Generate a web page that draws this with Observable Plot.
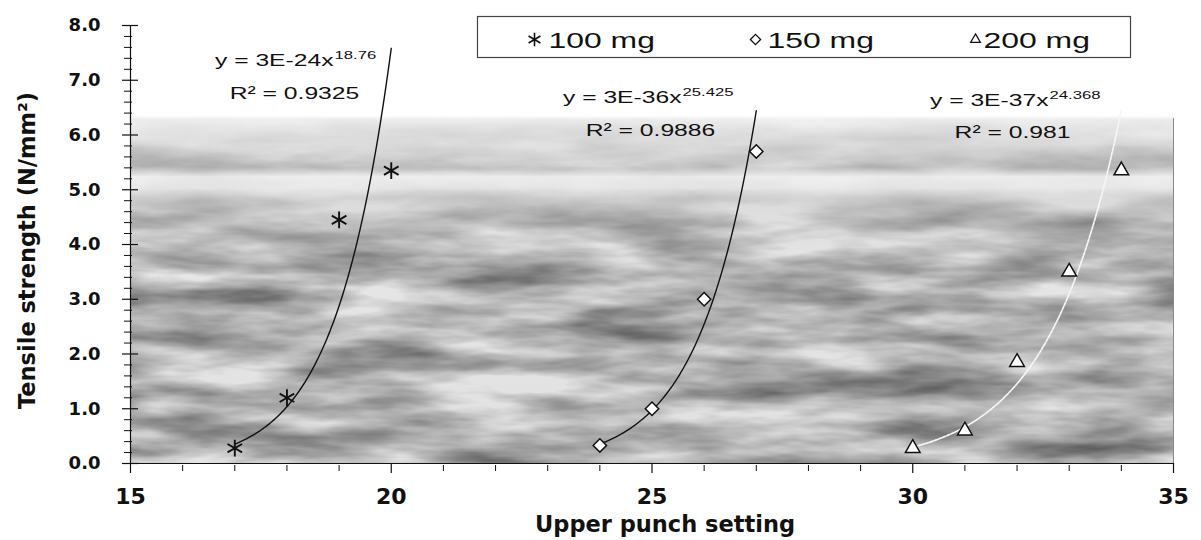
<!DOCTYPE html>
<html><head><meta charset="utf-8">
<script src="https://cdn.jsdelivr.net/npm/d3@7"></script>
<script src="https://cdn.jsdelivr.net/npm/@observablehq/plot@0.6"></script>
<style>body{margin:0;background:#fff} #chart svg{display:block}</style>
</head><body><div id="chart"></div>
<script>
// ---------- data ----------
const series = ["100 mg", "150 mg", "200 mg"];
const x100 = [17, 18, 19, 20];
const y100 = [0.28, 1.2, 4.45, 5.35];
const x150 = [24, 25, 26, 27];
const y150 = [0.33, 1.0, 3.0, 5.7];
const x200 = [30, 31, 32, 33, 34];
const y200 = [0.28, 0.6, 1.85, 3.5, 5.35];
const equations = ["y = 3E-24x", "y = 3E-36x", "y = 3E-37x"];
const exponents = ["18.76", "25.425", "24.368"];
const rSquared = ["R\u00B2 = 0.9325", "R\u00B2 = 0.9886", "R\u00B2 = 0.981"];
const xTicks = [15, 20, 25, 30, 35];
const yTicks = [0, 1, 2, 3, 4, 5, 6, 7, 8];
const xTitle = "Upper punch setting";
const yTitle = "Tensile strength (N/mm\u00B2)";

// ---------- derived ----------
const xMinor = d3.range(15, 35.01, 1).filter(v => !xTicks.includes(v));
const yMinor = d3.range(0, 8.001, 0.2).map(v => +v.toFixed(1)).filter(v => !yTicks.includes(v));
const groups = [
  {name: series[0], xs: x100, ys: y100},
  {name: series[1], xs: x150, ys: y150},
  {name: series[2], xs: x200, ys: y200}
];
const points = groups.flatMap(g => g.xs.map((x, i) => ({series: g.name, x, y: g.ys[i]})));
// Excel-style power trendline: least squares in log-log space, drawn over the data range
function powerFit(xs, ys) {
  const lx = xs.map(Math.log), ly = ys.map(Math.log);
  const mx = d3.mean(lx), my = d3.mean(ly);
  const b = d3.sum(lx, (v, i) => (v - mx) * (ly[i] - my)) / d3.sum(lx, v => (v - mx) ** 2);
  const lnA = my - b * mx;
  const x0 = xs[0], x1 = xs[xs.length - 1], n = 100;
  return d3.range(n + 1).map(i => {
    const x = x0 + (x1 - x0) * i / n;
    return {x, y: Math.exp(lnA + b * Math.log(x))};
  });
}
const fits = groups.map(g => powerFit(g.xs, g.ys));

// ---------- layout ----------
const W = 1201, H = 540, mL = 130, mR = 28, mT = 25, mB = 77;
const symbols = ["asterisk", "diamond2", "triangle2"];
const eqAnchorX = [333, 681, 1048], eqBaseY = [65, 102, 105];
const r2X = [294, 650, 1012], r2Y = [98, 135, 137];
const legMarkX = [534, 755, 975], legTextX = [548, 767, 983];
const legMarkY = 39, legTextY = 47;
const boldFont = "DejaVu Sans, Verdana, sans-serif";
const regFont = "Liberation Sans, Arial, sans-serif";
const STRETCH = 1.45;

const pxMark = (px, py) => ({frameAnchor: "top-left", dx: px - mL, dy: py - mT});

const marks = [
  Plot.frame({fill: "url(#bgGrad)", stroke: "none"}),
  Plot.frame({fill: "url(#noiseMask)", stroke: "none", ariaLabel: "texture", opacity: 0.62}),
  Plot.ruleX([35], {y1: 0, y2: 6.3, stroke: "#888", strokeWidth: 1}),
  // axes
  Plot.ruleX([15], {y1: 0, y2: 8, stroke: "#111", strokeWidth: 1.2}),
  Plot.ruleY([0], {x1: 15, x2: 35, stroke: "#111", strokeWidth: 1.2}),
  Plot.ruleY(yTicks, {x1: 15, x2: 15, insetLeft: -8, insetRight: -8, stroke: "#111", strokeWidth: 1.2}),
  Plot.ruleY(yMinor, {x1: 15, x2: 15, insetLeft: -6, insetRight: -2, stroke: "#111", strokeWidth: 1}),
  Plot.ruleX(xTicks, {y1: 0, y2: 0, insetTop: 0, insetBottom: -10, stroke: "#111", strokeWidth: 1.2}),
  Plot.ruleX(xMinor, {y1: 0, y2: 0, insetTop: 2, insetBottom: -8, stroke: "#111", strokeWidth: 1}),
  Plot.axisY({ticks: yTicks, tickSize: 0, tickPadding: 30, tickFormat: d3.format(".1f"), fontSize: 18, fontWeight: "bold", fontFamily: boldFont, fill: "#111", label: null}),
  Plot.axisX({ticks: xTicks, tickSize: 0, tickPadding: 25, tickFormat: d => String(d), fontSize: 22, fontWeight: "bold", fontFamily: boldFont, fill: "#111", label: null}),
  Plot.text([xTitle], {text: d => d, frameAnchor: "bottom", dx: 13, dy: 68, textAnchor: "middle", lineAnchor: "bottom", fontSize: 22.5, fontWeight: "bold", fontFamily: boldFont, fill: "#111"}),
  Plot.text([yTitle], {text: d => d, frameAnchor: "left", dx: -103, dy: 6, rotate: -90, textAnchor: "middle", lineAnchor: "middle", fontSize: 22.5, fontWeight: "bold", fontFamily: boldFont, fill: "#111"}),
  // trendlines
  Plot.line(fits[0], {x: "x", y: "y", stroke: "#111", strokeWidth: 1.4}),
  Plot.line(fits[1], {x: "x", y: "y", stroke: "#111", strokeWidth: 1.4}),
  Plot.line(fits[2], {x: "x", y: "y", stroke: "#f6f6f6", strokeWidth: 1.7, strokeDasharray: "3,1.5"}),
  // points
  Plot.dot(points.filter(d => d.series === series[0]), {x: "x", y: "y", symbol: symbols[0], r: 8, stroke: "#111", strokeWidth: 1.9}),
  Plot.dot(points.filter(d => d.series === series[1]), {x: "x", y: "y", symbol: symbols[1], r: 6, fill: "white", stroke: "#111", strokeWidth: 1.5}),
  Plot.dot(points.filter(d => d.series === series[2]), {x: "x", y: "y", symbol: symbols[2], r: 7, fill: "white", stroke: "#111", strokeWidth: 1.5}),
  // legend box
  Plot.frame({insetLeft: 477 - mL, insetRight: (W - mR) - 1130, insetTop: 16 - mT, insetBottom: (H - mB) - 57, fill: "white", stroke: "#444", strokeWidth: 1.2})
];
series.forEach((s, i) => {
  marks.push(Plot.dot([s], {...pxMark(legMarkX[i], legMarkY), symbol: symbols[i], r: i === 0 ? 6.5 : 4.6, fill: i === 0 ? "none" : "white", stroke: "#111", strokeWidth: i === 0 ? 1.6 : 1.3}));
  marks.push(Plot.text([s], {...pxMark(legTextX[i], legTextY), text: d => d, textAnchor: "start", lineAnchor: "bottom", fontSize: 22, fontFamily: regFont, fill: "#111", ariaLabel: "stretch"}));
  // trendline equations
  marks.push(Plot.text([equations[i]], {...pxMark(eqAnchorX[i], eqBaseY[i]), text: d => d, textAnchor: "end", lineAnchor: "bottom", fontSize: 17, fontFamily: regFont, fill: "#111", ariaLabel: "stretch"}));
  marks.push(Plot.text([exponents[i]], {...pxMark(eqAnchorX[i] + 1, eqBaseY[i] - 7), text: d => d, textAnchor: "start", lineAnchor: "bottom", fontSize: 11.5, fontFamily: regFont, fill: "#111", ariaLabel: "stretch"}));
  marks.push(Plot.text([rSquared[i]], {...pxMark(r2X[i], r2Y[i]), text: d => d, textAnchor: "middle", lineAnchor: "bottom", fontSize: 17, fontFamily: regFont, fill: "#111", ariaLabel: "stretch"}));
});

const svg = Plot.plot({
  width: W, height: H,
  marginLeft: mL, marginRight: mR, marginTop: mT, marginBottom: mB,
  x: {domain: [15, 35]},
  y: {domain: [0, 8]},
  style: {fontFamily: regFont, background: "white", overflow: "visible"},
  marks
});

// ---------- defs: background gradient + mottled texture ----------
const ns = "http://www.w3.org/2000/svg";
const defs = document.createElementNS(ns, "defs");
defs.innerHTML = `
<linearGradient id="bgGrad" x1="0" y1="0" x2="0" y2="1">
  <stop offset="0" stop-color="#ffffff"/>
  <stop offset="0.205" stop-color="#ffffff"/>
  <stop offset="0.215" stop-color="#f0f0f0"/>
  <stop offset="0.27" stop-color="#e2e2e2"/>
  <stop offset="0.30" stop-color="#d2d2d2"/>
  <stop offset="0.325" stop-color="#c8c8c8"/>
  <stop offset="0.345" stop-color="#f0f0f0"/>
  <stop offset="0.37" stop-color="#ebebeb"/>
  <stop offset="0.40" stop-color="#d0d0d0"/>
  <stop offset="0.5" stop-color="#c2c2c2"/>
  <stop offset="0.7" stop-color="#b8b8b8"/>
  <stop offset="0.9" stop-color="#b4b4b4"/>
  <stop offset="1" stop-color="#bcbcbc"/>
</linearGradient>
<linearGradient id="noiseMask" x1="0" y1="0" x2="0" y2="1">
  <stop offset="0" stop-color="#fff" stop-opacity="0"/>
  <stop offset="0.205" stop-color="#fff" stop-opacity="0"/>
  <stop offset="0.23" stop-color="#fff" stop-opacity="0.15"/>
  <stop offset="0.29" stop-color="#fff" stop-opacity="0.3"/>
  <stop offset="0.32" stop-color="#fff" stop-opacity="0.5"/>
  <stop offset="0.345" stop-color="#fff" stop-opacity="0.1"/>
  <stop offset="0.37" stop-color="#fff" stop-opacity="0.1"/>
  <stop offset="0.43" stop-color="#fff" stop-opacity="0.6"/>
  <stop offset="0.55" stop-color="#fff" stop-opacity="1"/>
  <stop offset="1" stop-color="#fff" stop-opacity="1"/>
</linearGradient>
<filter id="noise" x="0" y="0" width="1" height="1" filterUnits="objectBoundingBox" color-interpolation-filters="sRGB">
  <feTurbulence type="fractalNoise" baseFrequency="0.007 0.035" numOctaves="4" seed="7" result="n"/>
  <feColorMatrix in="n" type="matrix" values="1.4 0 0 0 -0.03  1.4 0 0 0 -0.03  1.4 0 0 0 -0.03  0 0 0 0 1" result="g"/>
  <feComposite in="g" in2="SourceGraphic" operator="in"/>
</filter>`;
svg.insertBefore(defs, svg.firstChild);
const tex = svg.querySelector('[aria-label="texture"]');
if (tex) tex.setAttribute("filter", "url(#noise)");

document.getElementById("chart").appendChild(svg);

// horizontally stretched regular text, as in the scanned original
svg.querySelectorAll("text").forEach(t => {
  let stretch = false;
  for (let el = t.parentNode; el && el !== svg; el = el.parentNode) {
    if (el.getAttribute && (el.getAttribute("aria-label") === "stretch" ||
        (el.getAttribute("font-family") || "").startsWith("Liberation"))) { stretch = true; break; }
  }
  if (!stretch) return;
  const w = t.getComputedTextLength();
  if (w > 0) {
    t.setAttribute("textLength", (w * STRETCH).toFixed(1));
    t.setAttribute("lengthAdjust", "spacingAndGlyphs");
  }
});
</script>
</body></html>
